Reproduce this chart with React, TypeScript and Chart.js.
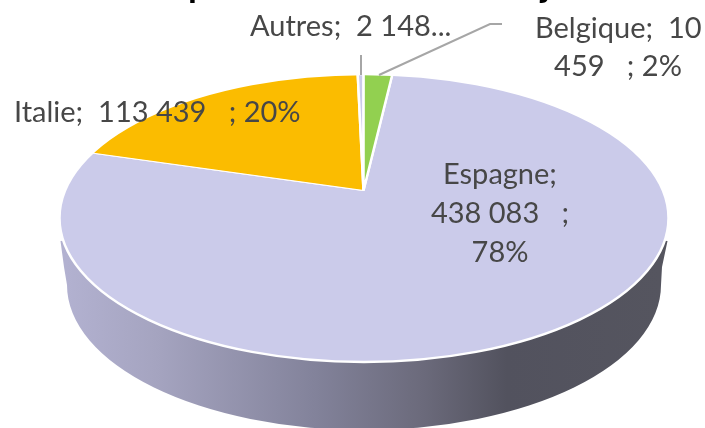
import React, { useEffect, useRef } from "react";
import { Chart, registerables } from "chart.js";

Chart.register(...registerables);

const categories = ["Espagne", "Italie", "Autres", "Belgique"];
const tonnes = [438083, 113439, 2148, 10459];
const sliceColors = ["#cbcbea", "#fbbc00", "#cbcbea", "#92d050"];

const labelFont = '29px Lato, sans-serif';
const labelColor = "#474747";

type Line = { text: string; x: number; y: number; align: CanvasTextAlign };
const labelLines: Line[] = [
  { text: "Autres;  2 148...", x: 250, y: 36, align: "left" },
  { text: "Belgique;  10", x: 535, y: 38, align: "left" },
  { text: "459   ; 2%", x: 618, y: 76, align: "center" },
  { text: "Italie;  113 439   ; 20%", x: 14, y: 122, align: "left" },
  { text: "Espagne;", x: 500, y: 184, align: "center" },
  { text: "438 083   ;", x: 500, y: 223, align: "center" },
  { text: "78%", x: 500, y: 262, align: "center" },
];

const TOP = { cx: 364, cy: 218, rx: 304.5, ry: 144 };
const BASE = { cx: 364, cy: 285, rx: 297, ry: 145 };
const APEX = { x: 363.5, y: 190.5 };
const squash = TOP.ry / TOP.rx;

const pie3d = {
  id: "pie3d",
  beforeDatasetsDraw(chart: any) {
    const ctx: CanvasRenderingContext2D = chart.ctx;
    const arc = chart.getDatasetMeta(0).data[0];
    // side wall
    const g = ctx.createLinearGradient(BASE.cx - BASE.rx, 0, BASE.cx + BASE.rx, 0);
    g.addColorStop(0, "#b2b1d0");
    g.addColorStop(0.15, "#a5a4c0");
    g.addColorStop(0.42, "#82829a");
    g.addColorStop(0.6, "#6b6a7b");
    g.addColorStop(0.74, "#52525e");
    g.addColorStop(1, "#55555f");
    ctx.save();
    ctx.fillStyle = g;
    ctx.beginPath();
    ctx.moveTo(TOP.cx - TOP.rx + 1, 241);
    ctx.lineTo(64, 267);
    ctx.lineTo(BASE.cx - BASE.rx, BASE.cy);
    ctx.ellipse(BASE.cx, BASE.cy, BASE.rx, BASE.ry, 0, Math.PI, 0, true);
    ctx.lineTo(662, 267);
    ctx.lineTo(TOP.cx + TOP.rx - 1, 241);
    ctx.lineTo(TOP.cx, TOP.cy);
    ctx.closePath();
    ctx.fill();
    ctx.restore();
    // top face: slices squashed and clipped to the ellipse
    ctx.save();
    ctx.beginPath();
    ctx.ellipse(TOP.cx, TOP.cy, TOP.rx, TOP.ry, 0, 0, Math.PI * 2);
    ctx.clip();
    ctx.translate(APEX.x, APEX.y);
    ctx.scale(1, squash);
    ctx.translate(-arc.x, -arc.y);
  },
  afterDatasetsDraw(chart: any) {
    const ctx: CanvasRenderingContext2D = chart.ctx;
    ctx.restore();
    ctx.save();
    ctx.strokeStyle = "#ffffff";
    ctx.lineWidth = 2.5;
    ctx.beginPath();
    ctx.ellipse(TOP.cx, TOP.cy, TOP.rx, TOP.ry, 0, 0, Math.PI * 2);
    ctx.stroke();
    // leader lines
    ctx.strokeStyle = "#a6a6a6";
    ctx.lineWidth = 2;
    ctx.beginPath();
    ctx.moveTo(361, 55);
    ctx.lineTo(361, 75);
    ctx.moveTo(379, 75);
    ctx.lineTo(490, 24);
    ctx.lineTo(502, 24);
    ctx.stroke();
    // labels
    ctx.fillStyle = labelColor;
    ctx.font = labelFont;
    ctx.textBaseline = "alphabetic";
    for (const l of labelLines) {
      ctx.textAlign = l.align;
      ctx.fillText(l.text, l.x, l.y);
    }
    // descenders of the title cropped by the top edge
    ctx.fillStyle = "#000000";
    ctx.font = 'bold 36px Lato, sans-serif';
    ctx.textAlign = "left";
    ctx.fillText("p", 188, -3);
    ctx.fillText("j", 541, -3);
    ctx.restore();
  },
};

export default function App() {
  const ref = useRef<HTMLCanvasElement>(null);
  useEffect(() => {
    const chart = new Chart(ref.current!, {
      type: "pie",
      data: {
        labels: categories,
        datasets: [
          {
            data: tonnes,
            backgroundColor: sliceColors,
            borderColor: "#ffffff",
            borderWidth: 2.5,
            clip: false,
          } as any,
        ],
      },
      options: {
        responsive: false,
        animation: false,
        rotation: 6.7,
        radius: 420,
        layout: { padding: 0 },
        plugins: { legend: { display: false }, tooltip: { enabled: false }, title: { display: false } },
      } as any,
      plugins: [pie3d],
    });
    return () => chart.destroy();
  }, []);
  return (
    <div style={{ position: "fixed", left: 0, top: 0, width: 705, height: 428, background: "#fff" }}>
      <canvas ref={ref} width={705} height={428} style={{ display: "block" }} />
    </div>
  );
}
